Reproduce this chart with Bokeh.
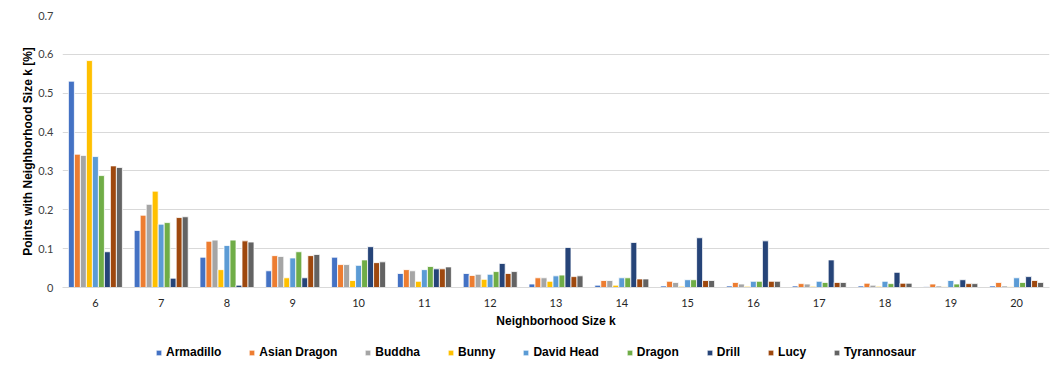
from bokeh.plotting import figure
from bokeh.layouts import column
from bokeh.models import (FactorRange, FixedTicker, CustomJSTickFormatter, Legend,
                          LegendItem, ColumnDataSource, Range1d)
from bokeh.transform import dodge
from bokeh.embed import file_html
from bokeh.resources import INLINE

k_labels = ["6", "7", "8", "9", "10", "11", "12", "13", "14", "15", "16", "17", "18", "19", "20"]

series_names = ["Armadillo", "Asian Dragon", "Buddha", "Bunny", "David Head",
                "Dragon", "Drill", "Lucy", "Tyrannosaur"]
series_colors = ["#4472C4", "#ED7D31", "#A5A5A5", "#FFC000", "#5B9BD5",
                 "#70AD47", "#264478", "#9E480E", "#636363"]

armadillo = [0.531, 0.147, 0.078, 0.043, 0.078, 0.036, 0.036, 0.009, 0.006, 0.004, 0.004, 0.004, 0.004, 0.002, 0.004]
asian_dragon = [0.343, 0.186, 0.119, 0.082, 0.059, 0.046, 0.031, 0.025, 0.018, 0.016, 0.013, 0.010, 0.011, 0.009, 0.013]
buddha = [0.340, 0.214, 0.122, 0.080, 0.059, 0.043, 0.034, 0.025, 0.018, 0.013, 0.009, 0.009, 0.006, 0.004, 0.004]
bunny = [0.584, 0.248, 0.046, 0.025, 0.018, 0.016, 0.021, 0.016, 0.006, 0.003, 0.003, 0.003, 0.003, 0.002, 0.002]
david_head = [0.337, 0.163, 0.108, 0.076, 0.057, 0.046, 0.034, 0.030, 0.025, 0.020, 0.016, 0.016, 0.016, 0.018, 0.025]
dragon = [0.288, 0.167, 0.122, 0.092, 0.071, 0.054, 0.041, 0.032, 0.025, 0.020, 0.016, 0.013, 0.010, 0.009, 0.013]
drill = [0.092, 0.024, 0.006, 0.025, 0.105, 0.048, 0.062, 0.103, 0.116, 0.128, 0.120, 0.071, 0.039, 0.020, 0.028]
lucy = [0.313, 0.180, 0.120, 0.082, 0.064, 0.048, 0.036, 0.028, 0.022, 0.018, 0.016, 0.013, 0.011, 0.010, 0.018]
tyrannosaur = [0.309, 0.182, 0.117, 0.085, 0.066, 0.053, 0.041, 0.030, 0.022, 0.018, 0.016, 0.013, 0.011, 0.010, 0.013]

y_ticks = [0, 0.1, 0.2, 0.3, 0.4, 0.5, 0.6, 0.7]

all_series = [armadillo, asian_dragon, buddha, bunny, david_head, dragon, drill, lucy, tyrannosaur]
keys = ["s%d" % i for i in range(len(all_series))]
data = {"k": k_labels}
for key, vals in zip(keys, all_series):
    data[key] = vals
source = ColumnDataSource(data)

p = figure(width=1051, height=340, x_range=FactorRange(factors=k_labels), y_range=(0, 0.7),
           output_backend="svg", toolbar_location=None,
           min_border_left=62, min_border_right=2, min_border_top=15, min_border_bottom=53)
p.outline_line_color = None
p.background_fill_color = "white"
p.border_fill_color = "white"

n = len(all_series)
pitch = 0.0912
for i, (key, col) in enumerate(zip(keys, series_colors)):
    off = (i - (n - 1) / 2) * pitch
    p.vbar(x=dodge("k", off, range=p.x_range), top=key, width=pitch, source=source,
           fill_color=col, line_color="white", line_width=0.8)

# axes
p.yaxis.ticker = FixedTicker(ticks=y_ticks)
p.yaxis.formatter = CustomJSTickFormatter(code="return tick == 0 ? '0' : tick.toFixed(1);")
p.yaxis.axis_line_color = None
p.yaxis.major_tick_line_color = None
p.yaxis.minor_tick_line_color = None
p.yaxis.major_label_standoff = 3
p.yaxis.major_label_text_font = "Lato"
p.yaxis.major_label_text_font_size = "11px"
p.yaxis.major_label_text_color = "#404040"
p.yaxis.axis_label = "Points with Neighborhood Size k [%]"
p.yaxis.axis_label_text_font = "Liberation Sans"
p.yaxis.axis_label_text_font_style = "bold"
p.yaxis.axis_label_text_font_size = "12px"
p.yaxis.axis_label_text_color = "black"
p.yaxis.axis_label_standoff = 0

p.xaxis.axis_line_color = "#D9D9D9"
p.xaxis.major_tick_line_color = None
p.xaxis.minor_tick_line_color = None
p.xaxis.major_label_standoff = 5
p.xaxis.major_label_text_font = "Lato"
p.xaxis.major_label_text_font_size = "11px"
p.xaxis.major_label_text_color = "#262626"
p.xaxis.axis_label = "Neighborhood Size k"
p.xaxis.axis_label_text_font = "Liberation Sans"
p.xaxis.axis_label_text_font_style = "bold"
p.xaxis.axis_label_text_font_size = "12px"
p.xaxis.axis_label_text_color = "black"
p.xaxis.axis_label_standoff = 4

p.xgrid.grid_line_color = None
p.ygrid.grid_line_color = "#D9D9D9"
p.ygrid.grid_line_width = 1

# legend strip
lg = figure(width=1051, height=31, x_range=Range1d(0, 1051), y_range=Range1d(0, 31),
            output_backend="svg", toolbar_location=None,
            min_border_left=0, min_border_right=0, min_border_top=0, min_border_bottom=0)
lg.axis.visible = False
lg.grid.grid_line_color = None
lg.outline_line_color = None
items = []
for name, col in zip(series_names, series_colors):
    r = lg.vbar(x=[-50], top=[0], width=1, fill_color=col, line_color="white", line_width=0.8)
    items.append(LegendItem(label=name, renderers=[r]))

legend = Legend(items=items, orientation="horizontal", location=(93, 12),
                glyph_width=7, glyph_height=7, label_standoff=4, spacing=27,
                label_text_font="Liberation Sans", label_text_font_style="bold",
                label_text_font_size="12px", label_text_color="black",
                label_height=14, padding=0, margin=0,
                border_line_color=None, background_fill_alpha=0)
lg.add_layout(legend)

layout = column(p, lg, spacing=0)
open("out.html", "w").write(file_html(layout, INLINE))
